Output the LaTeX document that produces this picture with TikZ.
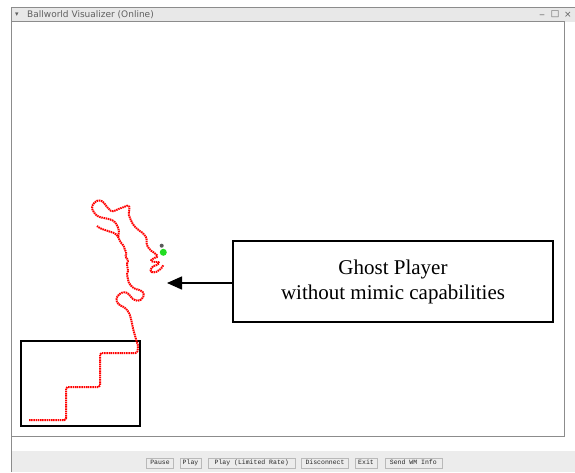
\documentclass[tikz,border=0pt]{standalone}
\usepackage{fontspec}
\setmainfont{Liberation Serif}
\newfontfamily\uifont{DejaVu Sans}
\newfontfamily\btnfont{Liberation Mono}
\usetikzlibrary{arrows.meta}
\definecolor{barbg}{HTML}{E8E8E8}
\definecolor{panelbg}{HTML}{ECECEC}
\definecolor{framegray}{HTML}{8C8C8C}
\definecolor{uitext}{HTML}{606060}
\definecolor{dotgreen}{HTML}{22DD22}
\begin{document}
\begin{tikzpicture}[x=1pt,y=-1pt,
  trace/.style={draw=red, line width=2pt, dash pattern=on 1.5pt off 0.7pt, line join=round, rounded corners=1.5pt},
  uibutton/.style={draw=gray!55, fill=panelbg, line width=0.6pt, minimum height=10pt, inner sep=0pt, text height=4.8pt, text depth=1.2pt, font=\btnfont\fontsize{6.5}{7}\selectfont, text=black!85},
  uilabel/.style={inner sep=0pt, text=uitext, font=\uifont\fontsize{9}{10}\selectfont},
  callout/.style={draw=black, line width=1.3pt, fill=white, minimum width=320pt, minimum height=81pt, align=center, font=\fontsize{21}{25}\selectfont},
  inset/.style={draw=black, line width=2pt},
]
\useasboundingbox (0,0) rectangle (575,472);
\fill[white] (0,0) rectangle (575,472);
% title bar
\fill[barbg] (11,7) rectangle (575,21.5);
\draw[framegray, line width=0.8pt] (11,7) -- (575,7);
\node[uilabel, anchor=west, font=\uifont\fontsize{7}{8}\selectfont] (titlearrow) at (15,14.5) {▾};
\node[uilabel, anchor=west] (title) at (27,14.5) {Ballworld Visualizer (Online)};
\node[uilabel] (minbtn) at (542,14.5) {\_};
\node[uilabel] (maxbtn) at (555,14.5) {□};
\node[uilabel] (closebtn) at (568,14.5) {×};
% window left border
\draw[framegray, line width=0.8pt] (11.5,7) -- (11.5,472);
% canvas border
\draw[framegray, line width=0.8pt] (12,21.5) -- (564.5,21.5) -- (564.5,436.5) -- (12,436.5);
% bottom panel
\fill[panelbg] (12,451) rectangle (575,472);
\node[uibutton, minimum width=27pt] (pause) at (160,463) {Pause};
\node[uibutton, minimum width=21pt] (play) at (190.5,463) {Play};
\node[uibutton, minimum width=87pt] (playlim) at (251.7,463) {Play (Limited Rate)};
\node[uibutton, minimum width=47pt] (disc) at (325,463) {Disconnect};
\node[uibutton, minimum width=22pt] (exit) at (366,463) {Exit};
\node[uibutton, minimum width=57pt] (sendwm) at (413.3,463) {Send WM Info};
% inset box
\draw[inset] (21,341) rectangle (140,426);
% trace: staircase and stem
\draw[trace] (29,420) -- (66,420) -- (66,387) -- (100,387) -- (100,353) -- (137,353) -- (138.3,346.7) -- (135.7,338) -- (133.3,330) -- (131.7,321.7) -- (130,315) -- (128,311) -- (124,307) -- (119,305) -- (116,300) -- (118,295) -- (123,292) -- (128,293) -- (131,297) -- (134,300) -- (139,301) -- (143,298) -- (144,293) -- (140,290) -- (135,289) -- (131,286) -- (128,281) -- (128,278) -- (126.7,275) -- (128.3,270) -- (126.7,265) -- (128.3,260) -- (125,256.7) -- (126.7,253.3) -- (125,250) -- (123.3,245) -- (120,241.7) -- (118.3,236.7) -- (115,233.3) -- (110,231.7) -- (105,230) -- (100,228.3) -- (97,226);
% trace: upper branch
\draw[trace] (118.3,236.7) -- (119,230) -- (117,225) -- (114,221) -- (109,219) -- (104,218) -- (99,217) -- (95,214) -- (91.7,208.3) -- (93.3,203.3) -- (98.3,200) -- (103.3,201.7) -- (106.7,206.7) -- (111.7,211.7) -- (116.7,210) -- (120,208.3) -- (125,206.7) -- (128.3,205) -- (130,208.3) -- (128.3,213.3) -- (130,218.3) -- (133.3,225) -- (138.3,230) -- (143.3,233.3) -- (146.7,238.3) -- (146.7,245) -- (150,250) -- (155,253.3) -- (158.3,256.7) -- (153.3,258.3) -- (150,261) -- (155,262) -- (160,262) -- (158.3,264.5) -- (152,266.5) -- (150,271.7) -- (155,272.7) -- (161.7,268.3) -- (163.3,265);
% player dots
\fill[black!65] (161.7,245.7) circle (2pt);
\fill[dotgreen] (163.3,252.3) circle (3.5pt);
% callout
\node[callout] (ghost) at (393,281.5) {Ghost Player\\without mimic capabilities};
\coordinate (tip) at (167,283);
\draw[line width=1.5pt, -{Triangle[length=15pt,width=13pt]}] (ghost.west |- tip) -- (tip);
\end{tikzpicture}
\end{document}
